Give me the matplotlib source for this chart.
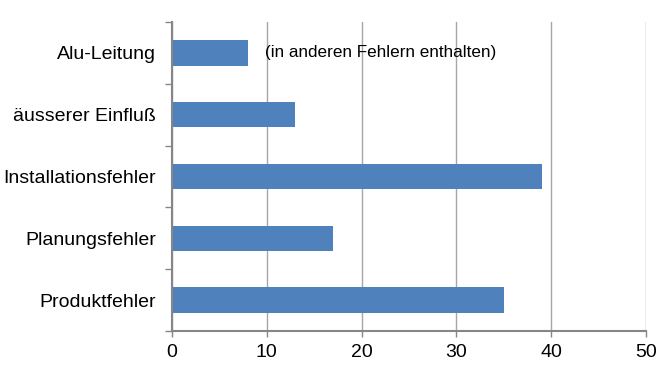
import matplotlib
matplotlib.use("Agg")
import matplotlib.pyplot as plt

categories = ["Produktfehler", "Planungsfehler", "Installationsfehler", "äusserer Einfluß", "Alu-Leitung"]
values = [35, 17, 39, 13, 8]
xticks = [0, 10, 20, 30, 40, 50]
note = "(in anderen Fehlern enthalten)"

plt.rcParams['font.family'] = ['Liberation Sans', 'DejaVu Sans']

fig = plt.figure(figsize=(6.58, 3.70), dpi=100)
ax = fig.add_axes([0.2614, 0.1054, 0.9818 - 0.2614, 0.9405 - 0.1054])

ypos = list(range(len(categories)))
ax.barh(ypos, values, height=0.41, color="#4F81BD", zorder=3)

ax.set_xlim(0, 50)
ax.set_ylim(-0.5, len(categories) - 0.5)
ax.set_xticks(xticks)
ax.set_xticklabels([str(t) for t in xticks], fontsize=14)
ax.set_yticks(ypos)
ax.set_yticklabels(categories, fontsize=14)
ax.tick_params(axis='y', length=0, pad=11.5)
ax.set_yticks([i - 0.5 for i in range(len(categories) + 1)], minor=True)
ax.tick_params(axis='y', which='minor', length=5, color="#868686", width=1)
ax.tick_params(axis='x', length=4, color="#868686", width=1, pad=5)

ax.grid(axis='x', color="#A6A6A6", linewidth=1, zorder=0)
for s in ["top", "right"]:
    ax.spines[s].set_visible(False)
for s in ["left", "bottom"]:
    ax.spines[s].set_color("#868686")
    ax.spines[s].set_linewidth(1.5)
    ax.spines[s].set_zorder(4)

ax.text(9.8, 4, note, fontsize=12.3, ha='left', va='center', color="#000000")

fig.savefig("out.png", dpi=100, facecolor="white")
